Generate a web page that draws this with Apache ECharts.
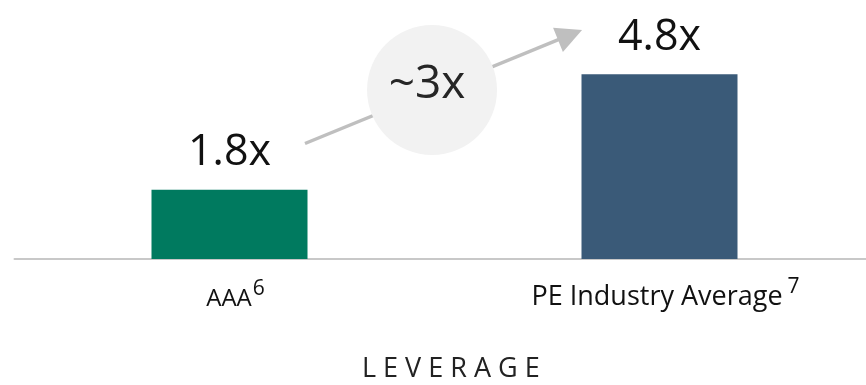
<!DOCTYPE html>
<html><head><meta charset="utf-8">
<script src="https://cdn.jsdelivr.net/npm/echarts@6/dist/echarts.min.js"></script>
<style>html,body{margin:0;padding:0;background:#fff}#c{width:866px;height:385px}</style>
</head><body><div id="c"></div>
<script>
const categories = ['AAA', 'PE Industry Average'];
const footnotes = ['6', '7'];
const values = [1.8, 4.8];
const barColors = ['#007a5f', '#3a5a78'];
const multipleLabel = '~3x';
const axisTitle = 'L E V E R A G E';
// annotation anchors in data space (x: 0..2 across the two category bands, y: leverage)
const arrowFrom = [0.6756, 3.0];
const arrowTo = [1.2919, 5.82];
const bubble = [0.971, 4.39];

const FONT = '"Open Sans", "Noto Sans", sans-serif';
const chart = echarts.init(document.getElementById('c'), null, {renderer: 'canvas'});
chart.setOption({
  animation: false,
  backgroundColor: '#ffffff',
  title: {
    text: axisTitle, left: 357, top: 351,
    textStyle: {fontFamily: FONT, fontSize: 27, fontWeight: 'normal', color: '#222222'}
  },
  grid: {left: 14.5, width: 860, top: 28, bottom: 126, containLabel: false, outerBoundsMode: 'none'},
  xAxis: [{
    type: 'category', data: categories,
    axisLine: {show: true, lineStyle: {color: '#c8c8c8', width: 2}},
    axisTick: {show: false},
    axisLabel: {
      margin: 22, fontFamily: FONT,
      formatter: (v, i) => '{' + (i === 0 ? 'a' : 'b') + '|' + v + '}{' + (i === 0 ? 's' : 't') + '|' + footnotes[i] + '}',
      rich: {
        a: {fontFamily: FONT, fontSize: 24, color: '#111111', lineHeight: 30, verticalAlign: 'bottom', padding: [0, 0, 0, 12]},
        b: {fontFamily: FONT, fontSize: 27, color: '#111111', lineHeight: 30, verticalAlign: 'bottom', padding: [0, 0, 0, 12]},
        s: {fontFamily: FONT, fontSize: 21, color: '#111111', verticalAlign: 'bottom', lineHeight: 14, padding: [0, 0, 11, 1]},
        t: {fontFamily: FONT, fontSize: 21, color: '#111111', verticalAlign: 'bottom', lineHeight: 14, padding: [0, 0, 13, 5]}
      }
    }
  }, {
    type: 'value', min: 0, max: 2, show: false
  }],
  yAxis: {type: 'value', min: 0, max: 6, show: false, splitLine: {show: false}},
  series: [{
    type: 'bar', xAxisIndex: 0, barWidth: 156, z: 2,
    data: values.map((v, i) => ({value: v, itemStyle: {color: barColors[i]}})),
    label: {
      show: true, position: 'top', distance: 15,
      formatter: p => p.value + 'x',
      fontFamily: FONT, fontSize: 43, color: '#111111'
    }
  }, {
    type: 'line', xAxisIndex: 1, data: [], z: 1, silent: true,
    markLine: {
      z: 1, silent: true, animation: false,
      symbol: ['none', 'triangle'], symbolSize: [26, 26],
      lineStyle: {color: '#bfbfbf', width: 3.5, type: 'solid'},
      label: {show: false},
      emphasis: {disabled: true},
      data: [[{coord: arrowFrom}, {coord: arrowTo}]]
    }
  }, {
    type: 'scatter', xAxisIndex: 1, z: 3, silent: true,
    symbol: 'circle', symbolSize: 130,
    itemStyle: {color: '#f2f2f2', opacity: 1},
    data: [bubble],
    label: {
      show: true, position: 'inside', formatter: multipleLabel, offset: [-5, -5],
      fontFamily: FONT, fontSize: 46, color: '#262626'
    }
  }]
});
</script></body></html>
